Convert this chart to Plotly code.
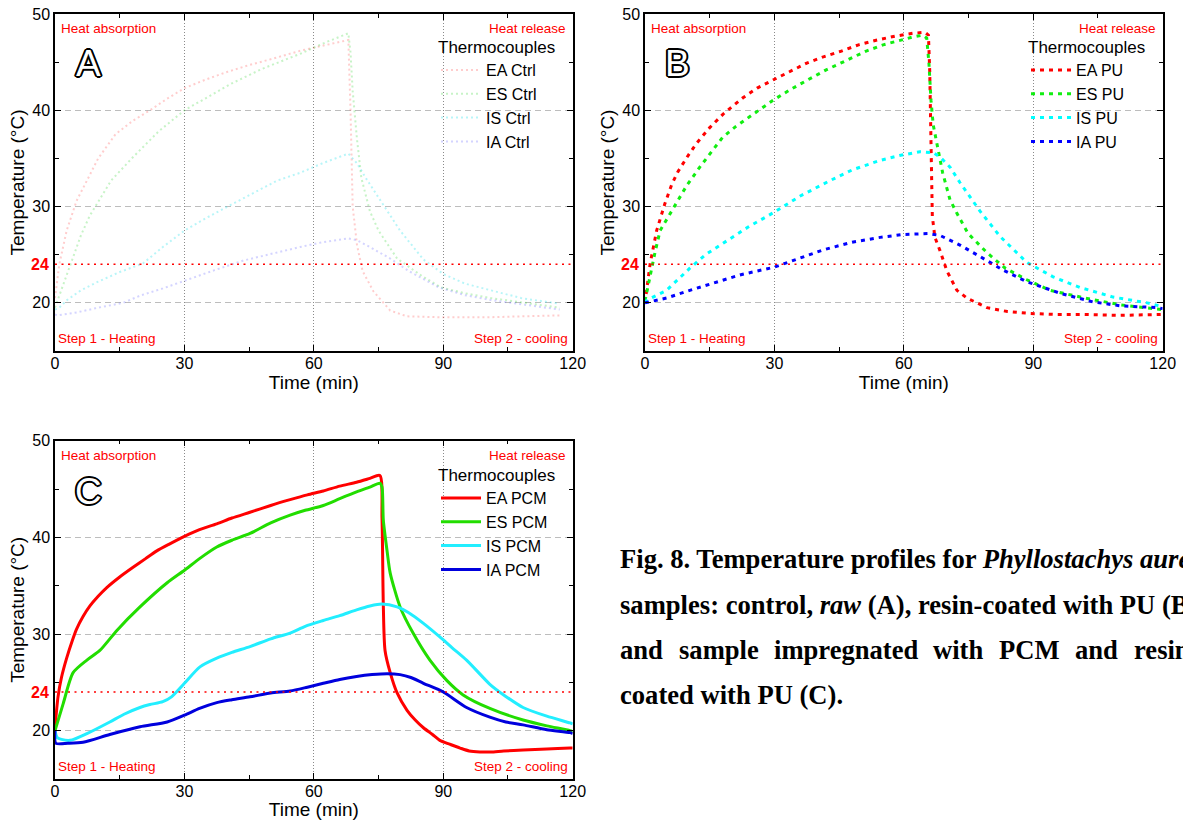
import plotly.graph_objects as go

W, H = 1183, 820

# ---------------- Panel A: control (raw) samples ----------------
t_ea_ctrl = [0, 1, 2.7, 5, 7.4, 10, 14, 18, 22, 26, 30, 35, 40, 45, 50, 57, 63, 68,
             68.5, 69, 70, 71.3, 73.8, 77.7, 81.6, 90, 100, 110, 117]
ea_ctrl = [20.5, 24, 27.5, 30.6, 32.7, 35, 37.5, 38.9, 40, 41.2, 42.3, 43.2, 44, 44.7, 45.3, 46.2, 46.8, 47.3,
           40, 30, 26, 23.3, 21.2, 19.2, 18.6, 18.5, 18.5, 18.6, 18.7]
t_es_ctrl = [0, 2, 4, 6, 8, 10, 13, 18, 24, 30, 36, 41, 48, 57, 63, 68,
             68.5, 69, 70, 71, 73, 75, 79.3, 85, 89.5, 95, 101, 110, 117]
es_ctrl = [19.5, 22, 24.5, 27, 29, 30.5, 32.7, 35.1, 37.8, 40, 41.5, 42.8, 44.3, 45.9, 47.1, 48,
           46, 42, 37, 33, 29.5, 27.5, 24.6, 22.8, 21.6, 21, 20.5, 19.9, 19.5]
t_is_ctrl = [0, 1, 2.8, 6, 10, 15, 20.4, 25, 30, 35, 40, 45, 51.5, 56.8, 62, 68,
             70, 72, 75.4, 80, 85.4, 90, 95, 101, 108, 117]
is_ctrl = [19.3, 19.5, 20.3, 21.3, 22.2, 23.2, 24.1, 25.8, 27.5, 28.8, 30, 31.2, 32.7, 33.5, 34.5, 35.5,
           34.5, 33, 30.6, 27.5, 24.5, 23, 22, 21.3, 20.5, 19.9]
t_ia_ctrl = [0, 0.5, 5, 10, 15.8, 20, 25, 30, 37, 43.7, 50, 56.8, 62, 68,
             70, 73, 77.7, 82, 89, 95, 101, 110, 117]
ia_ctrl = [18.8, 18.7, 19, 19.5, 20, 20.8, 21.5, 22.3, 23.4, 24.4, 25.1, 25.8, 26.3, 26.7,
           26.5, 25.8, 24.6, 23.3, 21.6, 20.8, 20.3, 19.7, 19.3]

# ---------------- Panel B: resin-coated with PU ----------------
t_ea_pu = [0, 0.5, 1.2, 2.7, 4.6, 6.2, 7.6, 10, 12, 15, 18.1, 22.7, 26, 29.9, 33.5, 37.5, 41, 45.2,
           49.5, 53.8, 58, 62.1, 64.9, 65.7, 66, 66.3, 66.6, 67.2, 68.4, 70, 72.3, 74.6, 79.3,
           84, 89.2, 95, 100.8, 110, 119.4, 120]
ea_pu = [20, 21.6, 24.1, 27.5, 30.3, 32.3, 33.6, 35.3, 36.6, 38.2, 39.6, 41.3, 42.3, 43.2, 44, 44.9, 45.5, 46.1,
         46.8, 47.3, 47.7, 48, 48.1, 47.8, 44, 36, 29, 26.8, 25.4, 23.3, 21.3, 20.5, 19.5,
         19.1, 18.9, 18.8, 18.8, 18.7, 18.8, 18.8]
t_es_pu = [0, 0.5, 1.2, 2.3, 3.5, 6.2, 8.1, 9.7, 12.7, 15, 18, 21, 24.3, 27, 29.9, 33.5, 37.5, 42,
           46.8, 51, 55.2, 59.1, 62, 64.4, 65.3, 65.8, 66.3, 66.8, 67.7, 69, 70.7, 72.3, 74.9,
           79.3, 83.5, 88.5, 93.9, 102, 110.1, 119.4, 120]
es_pu = [20.2, 21.3, 23.1, 25.2, 27.5, 29.5, 31, 32.2, 34.1, 35.5, 37.2, 38.3, 39.3, 40.2, 41.1, 42.1, 43.1, 44.2,
         45.2, 46.1, 46.8, 47.3, 47.6, 47.8, 47.5, 45, 41, 38.5, 36.6, 33.5, 30.7, 29.3, 27.2,
         25.2, 23.6, 22.4, 21.3, 20.5, 19.8, 19.3, 19.3]
t_is_pu = [0, 0.5, 5, 10.4, 14, 18.1, 24, 29.9, 36, 42.9, 48, 54.5, 59, 63.7, 66.8, 68.5, 70.7,
           73, 75.3, 77.7, 82.3, 88.5, 94.6, 100.8, 108.5, 116.4, 120]
is_pu = [20.0, 20.3, 21.3, 23.6, 25, 26.2, 27.9, 29.4, 31.1, 32.7, 33.8, 34.8, 35.3, 35.7, 35.6, 35.1, 34.1,
         32.5, 31, 29.5, 26.9, 24.2, 22.7, 21.6, 20.6, 20.0, 19.6]
t_ia_pu = [0, 5, 10.4, 16, 22, 29.9, 35, 41.3, 48, 54.5, 59.8, 65.6, 68.4, 73, 77.7, 83, 88.5,
           96.2, 103.8, 110.1, 118.7, 120]
ia_pu = [20, 20.5, 21.3, 22.1, 22.9, 23.7, 24.5, 25.5, 26.3, 26.8, 27.1, 27.2, 27, 26, 24.8, 23.4, 22.2,
         21, 20.1, 19.7, 19.5, 19.4]

# ---------------- Panel C: PCM impregnated + PU coating ----------------
t_ea_pcm = [0, 0.7, 1.5, 2.7, 4, 5, 6.5, 8.1, 10, 12, 15, 18.1, 21, 23.6, 26.5, 30, 33.5, 37.5, 41,
            45.2, 50, 54.5, 58.5, 62.2, 66, 69.9, 73, 75.3, 75.8, 76.1, 76.5, 77.7, 79.3, 81.6,
            83.5, 85.4, 87.5, 89.2, 91.5, 93.9, 96, 98.5, 101, 104, 108.5, 114, 119.4, 120]
ea_pcm = [20.3, 23.5, 25.5, 27.5, 29.3, 30.5, 31.8, 32.9, 33.9, 34.8, 35.9, 36.9, 37.8, 38.6, 39.3, 40.1, 40.8, 41.4, 42,
          42.6, 43.3, 43.9, 44.4, 44.8, 45.3, 45.7, 46.1, 46.4, 42, 33, 28.3, 26, 23.9, 22.1,
          21.1, 20.3, 19.6, 19, 18.6, 18.2, 17.9, 17.8, 17.8, 17.9, 18, 18.1, 18.2, 18.2]
t_es_pcm = [0, 1.9, 4.2, 7.4, 10.4, 14.4, 19.7, 26, 30, 33.5, 37.5, 41, 45.2, 50, 54.5, 58, 62.2, 66,
            69.9, 73, 75.3, 75.8, 76.1, 77, 77.7, 80, 83, 86.9, 90.8, 94.6, 100.8, 108.5, 114,
            119.4, 120]
es_pcm = [20, 22.8, 26, 27.3, 28.3, 30.4, 32.8, 35.3, 36.6, 37.8, 39, 39.7, 40.4, 41.5, 42.3, 42.8, 43.3, 44,
          44.7, 45.2, 45.6, 45.2, 41.8, 38.5, 36.3, 32.8, 30.1, 27.3, 25.2, 23.7, 22.3, 21.1, 20.5,
          20, 19.9]
t_is_pcm = [0, 0.5, 1.5, 3.5, 7.4, 12.7, 16, 19.7, 22, 25, 27, 30, 33.6, 37.5, 41, 45.2, 50, 54.5, 58,
            62.2, 66, 69.9, 73, 75.8, 79.3, 82, 85.4, 89.2, 92, 95.4, 100.8, 104, 108.5, 114,
            119.4, 120]
is_pcm = [20, 19.3, 19.1, 19, 19.7, 20.9, 21.7, 22.4, 22.7, 23, 23.5, 24.9, 26.6, 27.5, 28.1, 28.7, 29.5, 30.1, 30.8,
          31.4, 31.9, 32.5, 32.9, 33.1, 32.8, 32.2, 31.1, 29.7, 28.6, 27.3, 24.8, 23.7, 22.4, 21.5,
          20.8, 20.7]
t_ia_pcm = [0, 0.2, 3, 6.5, 12.7, 19.7, 26, 30, 33.5, 37.5, 41, 45.2, 50, 54.5, 58.5, 62.2, 66, 69.9,
            73.5, 77, 80, 82.5, 85.4, 90, 95.4, 100.8, 104.5, 108.5, 114, 119.4, 120]
ia_pcm = [20, 18.7, 18.7, 18.8, 19.6, 20.4, 20.9, 21.6, 22.3, 22.9, 23.2, 23.5, 23.9, 24.1, 24.5, 24.9, 25.3, 25.6,
          25.8, 25.9, 25.8, 25.5, 24.9, 24, 22.4, 21.4, 20.9, 20.6, 20.1, 19.8, 19.7]

SENSORS = ["EA", "ES", "IS", "IA"]
COMFORT_T = 24

FONT = "Liberation Sans, Arial, sans-serif"
SERIF = "Liberation Serif, Times New Roman, serif"


def px(x):
    return x / W


def py(y):
    return 1 - y / H


fig = go.Figure()

panels = [
    # (axis suffix, legend id, series, label tag, colours, dash, width, line shape)
    ("", "legend",
     [(t_ea_ctrl, ea_ctrl), (t_es_ctrl, es_ctrl), (t_is_ctrl, is_ctrl), (t_ia_ctrl, ia_ctrl)],
     "Ctrl",
     ["rgba(255,60,60,0.26)", "rgba(40,210,40,0.26)", "rgba(0,220,230,0.28)", "rgba(60,60,255,0.22)"],
     "2px,3px", 2, "linear"),
    ("2", "legend2",
     [(t_ea_pu, ea_pu), (t_es_pu, es_pu), (t_is_pu, is_pu), (t_ia_pu, ia_pu)],
     "PU",
     ["#ff0000", "#11ee11", "#00ffff", "#0000ff"],
     "4px,5px", 3, "linear"),
    ("3", "legend3",
     [(t_ea_pcm, ea_pcm), (t_es_pcm, es_pcm), (t_is_pcm, is_pcm), (t_ia_pcm, ia_pcm)],
     "PCM",
     ["#ff0000", "#22dd00", "#22eeff", "#0000dd"],
     "solid", 3, "spline"),
]

for suffix, leg, series, tag, colours, dash, width, shape in panels:
    for name, (tt, vv), col in zip(SENSORS, series, colours):
        fig.add_trace(go.Scatter(
            x=tt, y=vv, mode="lines", name=f"{name} {tag}",
            line=dict(color=col, width=width, dash=dash, shape=shape, smoothing=0.7),
            xaxis="x" + suffix, yaxis="y" + suffix, legend=leg,
            hoverinfo="skip",
        ))

domains = {
    "": ([px(55), px(572.7)], [py(351), py(14)]),
    "2": ([px(645), px(1162.7)], [py(351), py(14)]),
    "3": ([px(55), px(572.7)], [py(779), py(440.7)]),
}

layout = dict(
    width=W, height=H, autosize=False,
    margin=dict(l=0, r=0, t=0, b=0),
    paper_bgcolor="white", plot_bgcolor="white",
    font=dict(family=FONT, color="black"),
    showlegend=True,
)

for suffix, (xd, yd) in domains.items():
    layout["xaxis" + suffix] = dict(
        domain=xd, range=[0, 120], anchor="y" + suffix,
        tickvals=[0, 30, 60, 90, 120], ticks="inside", ticklen=6, tickwidth=1.2, tickcolor="black",
        minor=dict(tickvals=[15, 45, 75, 105], ticks="inside", ticklen=4, tickcolor="black", showgrid=False),
        showline=True, linecolor="black", linewidth=1.5, mirror="ticks",
        showgrid=True, gridcolor="#8a8a8a", gridwidth=1, griddash="1px,2px",
        zeroline=False, tickfont=dict(size=16, family=FONT), ticklabelstandoff=-3,
        title=dict(text="Time (min)", font=dict(size=19, family=FONT), standoff=0),
        automargin=False,
    )
    layout["yaxis" + suffix] = dict(
        domain=yd, range=[15, 50], anchor="x" + suffix,
        tickvals=[20, 30, 40, 50], ticks="inside", ticklen=6, tickwidth=1.2, tickcolor="black",
        minor=dict(tickvals=[15, 25, 35, 45], ticks="inside", ticklen=4, tickcolor="black", showgrid=False),
        showline=True, linecolor="black", linewidth=1.5, mirror="ticks",
        showgrid=True, gridcolor="#bdbdbd", gridwidth=1, griddash="6px,4px",
        zeroline=False, tickfont=dict(size=16, family=FONT),
        title=dict(text="Temperature (°C)", font=dict(size=19, family=FONT), standoff=3),
        automargin=False,
    )

legend_pos = {"legend": (436, 31), "legend2": (1026, 31), "legend3": (436, 459)}
for leg, (lx, ly) in legend_pos.items():
    layout[leg] = dict(
        x=px(lx), y=py(ly), xanchor="left", yanchor="top",
        bgcolor="rgba(0,0,0,0)", borderwidth=0,
        font=dict(size=16, family=FONT),
        title=dict(text="Thermocouples", font=dict(size=17, family=FONT)),
        itemwidth=40, tracegroupgap=0,
    )

fig.update_layout(**layout)

# Comfort temperature reference line (24 °C) on each panel
for suffix in domains:
    fig.add_shape(type="line", xref="x" + suffix, yref="y" + suffix,
                  x0=0, x1=120, y0=COMFORT_T, y1=COMFORT_T,
                  line=dict(color="red", width=1.5, dash="2px,4.5px"), layer="above")

annotations = []
offsets = {"": (0, 0), "2": (590, 0), "3": (0, 427.7)}
letters = {"": "A", "2": "B", "3": "C"}
for suffix, (dx, dy) in offsets.items():
    annotations += [
        dict(x=px(59 + dx), y=py(28 + dy), text="Heat absorption", xanchor="left", yanchor="middle",
             font=dict(size=13.5, color="red", family=FONT)),
        dict(x=px(568 + dx), y=py(28 + dy), text="Heat release", xanchor="right", yanchor="middle",
             font=dict(size=13.5, color="red", family=FONT)),
        dict(x=px(56 + dx), y=py(339 + dy), text="Step 1 - Heating", xanchor="left", yanchor="middle",
             font=dict(size=13.5, color="red", family=FONT)),
        dict(x=px(570 + dx), y=py(339 + dy), text="Step 2 - cooling", xanchor="right", yanchor="middle",
             font=dict(size=13.5, color="red", family=FONT)),
        dict(x=px(51 + dx), y=py(264.5 + dy), text="<b>24</b>", xanchor="right", yanchor="middle",
             font=dict(size=16, color="red", family=FONT)),
        dict(x=px(88 + dx), y=py(64 + dy), text=letters[suffix], xanchor="center", yanchor="middle",
             font=dict(size=37, color="white", family=FONT,
                       shadow="2px 0 0 #000, -2px 0 0 #000, 0 2px 0 #000, 0 -2px 0 #000, "
                              "1.4px 1.4px 0 #000, -1.4px -1.4px 0 #000, 1.4px -1.4px 0 #000, -1.4px 1.4px 0 #000")),
    ]

# Figure caption
cap_font = dict(size=26.6, family=SERIF, color="black")
cap_lines = [
    (559, "<b>Fig. 8. Temperature profiles for <i>Phyllostachys aurea</i></b>"),
    (605, "<b>samples: control, <i>raw</i> (A), resin-coated with PU (B),</b>"),
    (695, "<b>coated with PU (C).</b>"),
]
for yy, txt in cap_lines:
    annotations.append(dict(x=px(618), y=py(yy), text=txt, xanchor="left", yanchor="middle",
                            font=cap_font))
justified = [(618, "and"), (677, "sample"), (772, "impregnated"), (931, "with"),
             (997, "PCM"), (1073, "and"), (1132, "resin-")]
for xx, word in justified:
    annotations.append(dict(x=px(xx), y=py(650), text=f"<b>{word}</b>", xanchor="left",
                            yanchor="middle", font=cap_font))

for a in annotations:
    a.setdefault("xref", "paper")
    a.setdefault("yref", "paper")
    a.setdefault("showarrow", False)
fig.update_layout(annotations=annotations)

fig.write_html("out.html")
